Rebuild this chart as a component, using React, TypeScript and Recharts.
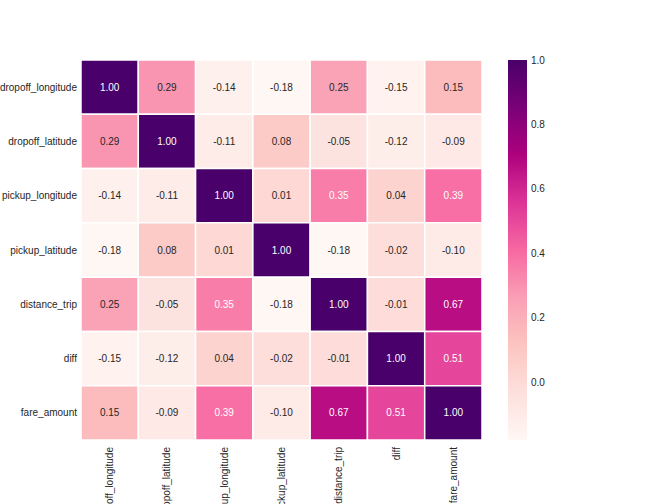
import React from "react";
import {
  ComposedChart,
  XAxis,
  YAxis,
  ReferenceArea,
  Scatter,
} from "recharts";

// correlation matrix labels, same order on both axes
const labels = [
  "dropoff_longitude",
  "dropoff_latitude",
  "pickup_longitude",
  "pickup_latitude",
  "distance_trip",
  "diff",
  "fare_amount",
];

const rowDropoffLon = [1.0, 0.29, -0.14, -0.18, 0.25, -0.15, 0.15];
const rowDropoffLat = [0.29, 1.0, -0.11, 0.08, -0.05, -0.12, -0.09];
const rowPickupLon = [-0.14, -0.11, 1.0, 0.01, 0.35, 0.04, 0.39];
const rowPickupLat = [-0.18, 0.08, 0.01, 1.0, -0.18, -0.02, -0.1];
const rowDistance = [0.25, -0.05, 0.35, -0.18, 1.0, -0.01, 0.67];
const rowDiff = [-0.15, -0.12, 0.04, -0.02, -0.01, 1.0, 0.51];
const rowFare = [0.15, -0.09, 0.39, -0.1, 0.67, 0.51, 1.0];

const matrix = [
  rowDropoffLon,
  rowDropoffLat,
  rowPickupLon,
  rowPickupLat,
  rowDistance,
  rowDiff,
  rowFare,
];

const colorbarTicks = [0, 0.2, 0.4, 0.6, 0.8, 1.0];

const vmin = Math.min(...matrix.flat());
const vmax = 1.0;

// matplotlib RdPu (ColorBrewer 9 steps)
const rdpu = [
  "#fff7f3", "#fde0dd", "#fcc5c0", "#fa9fb5", "#f768a1",
  "#dd3497", "#ae017e", "#7a0177", "#49006a",
];

const hexToRgb = (h: string) => [
  parseInt(h.slice(1, 3), 16),
  parseInt(h.slice(3, 5), 16),
  parseInt(h.slice(5, 7), 16),
];

const colorAt = (t: number) => {
  const c = Math.max(0, Math.min(1, t)) * (rdpu.length - 1);
  const i = Math.min(Math.floor(c), rdpu.length - 2);
  const f = c - i;
  const a = hexToRgb(rdpu[i]);
  const b = hexToRgb(rdpu[i + 1]);
  return a.map((v, k) => Math.round(v + (b[k] - v) * f));
};

const toCss = (rgb: number[]) => `rgb(${rgb[0]},${rgb[1]},${rgb[2]})`;

// same rule seaborn uses to pick annotation colour
const luminance = (rgb: number[]) => {
  const lin = rgb.map((v) => {
    const s = v / 255;
    return s <= 0.03928 ? s / 12.92 : Math.pow((s + 0.055) / 1.055, 2.4);
  });
  return 0.2126 * lin[0] + 0.7152 * lin[1] + 0.0722 * lin[2];
};

const textColor = "#262626";
const font = "'Liberation Sans', Arial, sans-serif";

const XTick = (props: any) => {
  const { x, y, payload } = props;
  return (
    <text
      x={x}
      y={y}
      transform={`rotate(-90, ${x}, ${y})`}
      textAnchor="end"
      dominantBaseline="central"
      fill={textColor}
      fontSize={10}
      fontFamily={font}
    >
      {labels[Math.floor(payload.value)]}
    </text>
  );
};

const centers = labels.map((_, i) => i + 0.5);

// one point per cell centre, only used so the axes get their domains
const cells = matrix.flatMap((row, r) => row.map((v, c) => ({ cx: c + 0.5, cy: r + 0.5, v })));

const NoShape = () => null;

export default function App() {
  return (
    <div style={{ position: "absolute", left: 0, top: 0, width: 648, height: 504, background: "#fff", overflow: "hidden" }}>
      <div style={{ position: "absolute", left: 0, top: 0 }}>
        <ComposedChart
          width={648}
          height={504}
          data={cells}
          margin={{ top: 60, right: 166, bottom: 0, left: 0 }}
        >
          <XAxis
            type="number"
            dataKey="cx"
            domain={[0, 7]}
            allowDataOverflow
            ticks={centers}
            interval={0}
            tickLine={false}
            axisLine={false}
            tickSize={0}
            tickMargin={7}
            height={64}
            tick={<XTick />}
          />
          <YAxis
            type="number"
            dataKey="cy"
            domain={[0, 7]}
            allowDataOverflow
            reversed
            ticks={centers}
            interval={0}
            tickLine={false}
            axisLine={false}
            tickSize={0}
            tickMargin={4}
            width={81}
            tickFormatter={(v) => labels[Math.floor(v)]}
            tick={{ fill: textColor, fontSize: 10, fontFamily: font }}
          />
          {matrix.map((row, r) =>
            row.map((v, c) => {
              const rgb = colorAt((v - vmin) / (vmax - vmin));
              const lbl = luminance(rgb) > 0.408 ? textColor : "#ffffff";
              return (
                <ReferenceArea
                  key={`${r}-${c}`}
                  x1={c}
                  x2={c + 1}
                  y1={r}
                  y2={r + 1}
                  fill={toCss(rgb)}
                  fillOpacity={1}
                  stroke="#ffffff"
                  strokeWidth={1.5}
                  label={{
                    value: v.toFixed(2),
                    position: "center",
                    fill: lbl,
                    fontSize: 10,
                    fontFamily: font,
                  }}
                />
              );
            })
          )}
          <Scatter data={cells} dataKey="cy" shape={<NoShape />} isAnimationActive={false} />
        </ComposedChart>
      </div>
      <div style={{ position: "absolute", left: 508, top: 0 }}>
        <ComposedChart
          width={100}
          height={504}
          data={[{ x: 0.5, y: vmin }, { x: 0.5, y: vmax }]}
          margin={{ top: 60, right: 0, bottom: 64, left: 0 }}
        >
          <defs>
            <linearGradient id="cbar" x1="0" y1="1" x2="0" y2="0">
              {rdpu.map((c, i) => (
                <stop key={c} offset={`${(i / (rdpu.length - 1)) * 100}%`} stopColor={c} />
              ))}
            </linearGradient>
          </defs>
          <XAxis type="number" dataKey="x" domain={[0, 1]} hide />
          <YAxis
            orientation="right"
            type="number"
            dataKey="y"
            domain={[vmin, vmax]}
            allowDataOverflow
            ticks={colorbarTicks}
            interval={0}
            tickLine={false}
            axisLine={false}
            tickSize={0}
            tickMargin={4}
            width={81}
            tickFormatter={(v) => v.toFixed(1)}
            tick={{ fill: textColor, fontSize: 10, fontFamily: font, textAnchor: "start" }}
          />
          <ReferenceArea x1={0} x2={1} y1={vmin} y2={vmax} fill="url(#cbar)" fillOpacity={1} />
          <Scatter dataKey="y" shape={<NoShape />} isAnimationActive={false} />
        </ComposedChart>
      </div>
    </div>
  );
}
